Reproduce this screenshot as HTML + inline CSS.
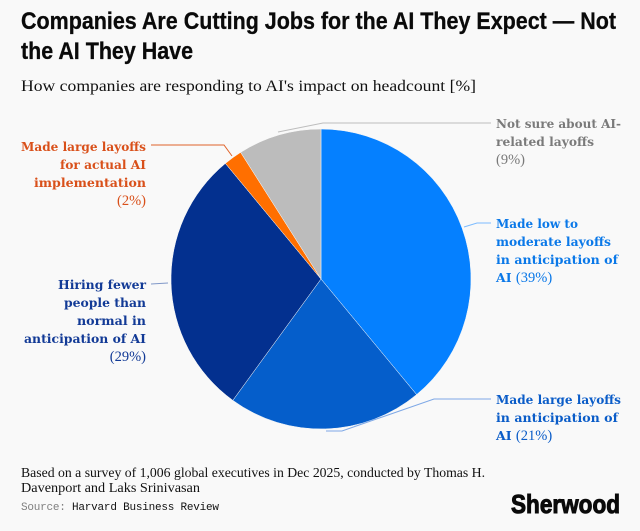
<!DOCTYPE html>
<html lang="en">
<head>
<meta charset="utf-8">
<title>Companies Are Cutting Jobs for the AI They Expect</title>
<style>
  html, body { margin: 0; padding: 0; background: #f9f9f9; }
  body { width: 640px; height: 531px; overflow: hidden; }
  svg { display: block; }
  .sans { font-family: "Liberation Sans", sans-serif; }
  .serif { font-family: "Liberation Serif", serif; }
  .mono { font-family: "Liberation Mono", monospace; }
  .label { font-family: "DejaVu Serif", "Liberation Serif", serif; font-size: 12.5px; font-weight: 700; }
  .pct { font-family: "Liberation Serif", serif; font-size: 14.5px; font-weight: 400; }
</style>
</head>
<body>
<svg id="chart" width="640" height="531" viewBox="0 0 640 531" xmlns="http://www.w3.org/2000/svg">
  <rect x="0" y="0" width="640" height="531" fill="#f9f9f9"/>
  <g class="sans" font-size="24" font-weight="700" fill="#0a0a0a" stroke="#0a0a0a" stroke-width="0.3">
    <text x="21" y="29" textLength="595" lengthAdjust="spacingAndGlyphs">Companies Are Cutting Jobs for the AI They Expect — Not</text>
    <text x="21" y="59" textLength="172" lengthAdjust="spacingAndGlyphs">the AI They Have</text>
  </g>
  <text class="serif" x="21" y="91" font-size="16" fill="#111" textLength="455" lengthAdjust="spacingAndGlyphs">How companies are responding to AI's impact on headcount [%]</text>

  <g id="slices"></g>

  <g fill="none" stroke-width="1">
    <polyline points="278,132 323,123 491,123" stroke="#bdbdbd"/>
    <polyline points="464,227 477,223 491,223" stroke="#7dbcff"/>
    <polyline points="326,431 342,431 434,399 491,399" stroke="#7ea8e6"/>
    <polyline points="151,284 168,283" stroke="#8098c8"/>
    <polyline points="151,145 224,145 232,156" stroke="#e0632a"/>
  </g>

  <g class="label" fill="#7a7a7a">
    <text x="496" y="128" textLength="125" lengthAdjust="spacingAndGlyphs">Not sure about AI-</text>
    <text x="496" y="146" textLength="98" lengthAdjust="spacingAndGlyphs">related layoffs</text>
    <text id="pct-4" class="pct" x="496" y="164"></text>
  </g>
  <g class="label" fill="#0a78e8">
    <text x="496" y="228" textLength="82" lengthAdjust="spacingAndGlyphs">Made low to</text>
    <text x="496" y="246" textLength="115" lengthAdjust="spacingAndGlyphs">moderate layoffs</text>
    <text x="496" y="264" textLength="122" lengthAdjust="spacingAndGlyphs">in anticipation of</text>
    <text x="496" y="282">AI <tspan id="pct-0" class="pct"></tspan></text>
  </g>
  <g class="label" fill="#0a5cc8">
    <text x="496" y="404" textLength="125" lengthAdjust="spacingAndGlyphs">Made large layoffs</text>
    <text x="496" y="422" textLength="122" lengthAdjust="spacingAndGlyphs">in anticipation of</text>
    <text x="496" y="440">AI <tspan id="pct-1" class="pct"></tspan></text>
  </g>
  <g class="label" fill="#123a96" text-anchor="end">
    <text x="146" y="289" textLength="88" lengthAdjust="spacingAndGlyphs">Hiring fewer</text>
    <text x="146" y="307" textLength="82" lengthAdjust="spacingAndGlyphs">people than</text>
    <text x="146" y="325" textLength="69" lengthAdjust="spacingAndGlyphs">normal in</text>
    <text x="146" y="343" textLength="122" lengthAdjust="spacingAndGlyphs">anticipation of AI</text>
    <text id="pct-2" class="pct" x="146" y="361"></text>
  </g>
  <g class="label" fill="#d9501a" text-anchor="end">
    <text x="146" y="151" textLength="125" lengthAdjust="spacingAndGlyphs">Made large layoffs</text>
    <text x="146" y="169" textLength="86" lengthAdjust="spacingAndGlyphs">for actual AI</text>
    <text x="146" y="187" textLength="112" lengthAdjust="spacingAndGlyphs">implementation</text>
    <text id="pct-3" class="pct" x="146" y="205"></text>
  </g>

  <g class="serif" font-size="13.4" fill="#111">
    <text x="21" y="477" textLength="464" lengthAdjust="spacingAndGlyphs">Based on a survey of 1,006 global executives in Dec 2025, conducted by Thomas H.</text>
    <text x="21" y="492" textLength="179" lengthAdjust="spacingAndGlyphs">Davenport and Laks Srinivasan</text>
  </g>
  <text class="mono" x="21" y="510" font-size="11" fill="#111" textLength="198" lengthAdjust="spacing"><tspan fill="#808080">Source:</tspan> Harvard Business Review</text>
  <text class="sans" x="511" y="513" font-size="26" font-weight="700" fill="#0a0a0a" stroke="#0a0a0a" stroke-width="1" textLength="109" lengthAdjust="spacingAndGlyphs">Sherwood</text>
</svg>
<script>
const categories = ["Made low to moderate layoffs in anticipation of AI", "Made large layoffs in anticipation of AI", "Hiring fewer people than normal in anticipation of AI", "Made large layoffs for actual AI implementation", "Not sure about AI-related layoffs"];
const values = [39, 21, 29, 2, 9];
const sliceNames = ["slice-low-moderate", "slice-large-anticipation", "slice-hiring-fewer", "slice-large-actual", "slice-not-sure"];
const colors = ["#0580ff", "#055ecb", "#03308f", "#ff6f00", "#bcbcbc"];

const cx = 321, cy = 279, r = 150;
const total = values.reduce(function (a, b) { return a + b; }, 0);
function angle(v) { return v / total * Math.PI * 2; }
function px(a) { return cx + r * Math.sin(a); }
function py(a) { return cy - r * Math.cos(a); }

const group = document.getElementById('slices');
let cumulative = 0;
values.forEach(function (v, i) {
  const a0 = angle(cumulative);
  const a1 = angle(cumulative + v);
  cumulative += v;
  const large = a1 - a0 > Math.PI ? 1 : 0;
  const el = document.createElementNS('http://www.w3.org/2000/svg', 'path');
  el.setAttribute('d', 'M' + cx + ' ' + cy + 'L' + px(a0) + ' ' + py(a0) + 'A' + r + ' ' + r + ' 0 ' + large + ' 1 ' + px(a1) + ' ' + py(a1) + 'Z');
  el.setAttribute('fill', colors[i]);
  el.setAttribute('stroke', '#f9f9f9');
  el.setAttribute('stroke-width', '0.5');
  
  
  const t = document.createElementNS('http://www.w3.org/2000/svg', 'title');
  t.textContent = categories[i] + ': ' + v + '%';
  el.appendChild(t);
  group.appendChild(el);
  document.getElementById('pct-' + i).textContent = '(' + v + '%)';
});
</script>
</body>
</html>
